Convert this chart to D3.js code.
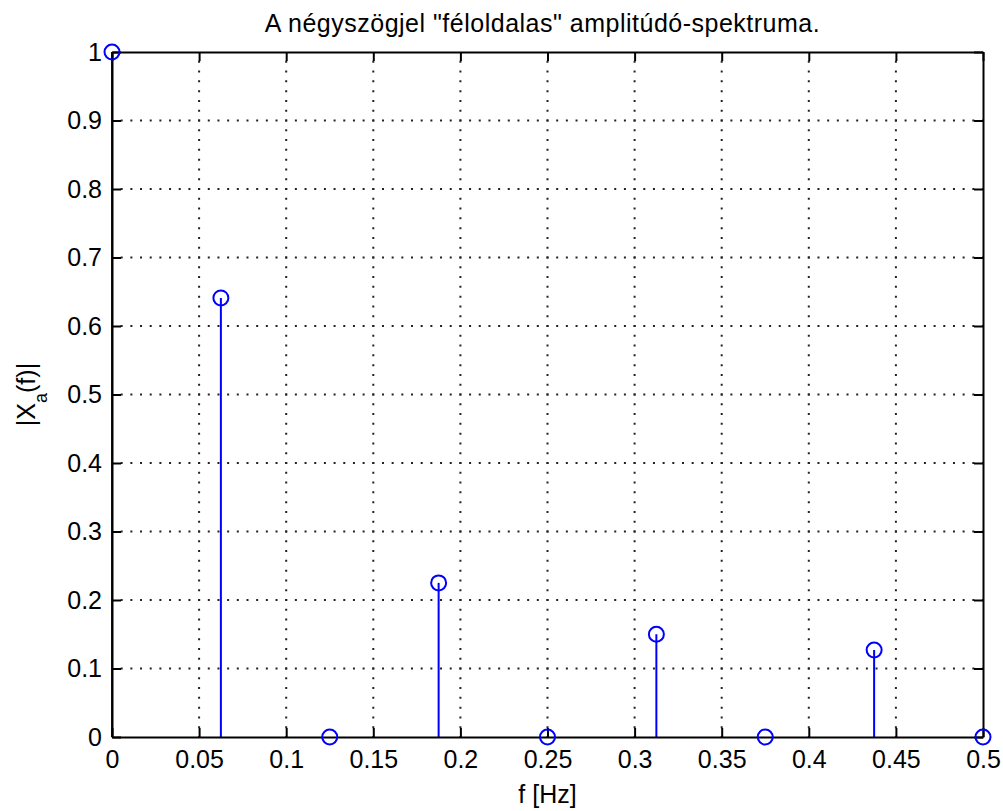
<!DOCTYPE html>
<html>
<head>
<meta charset="utf-8">
<script src="https://cdn.jsdelivr.net/npm/d3@7"></script>
<style>
  body { margin: 0; background: #fff; }
  svg text { font-family: "Liberation Sans", Arial, sans-serif; fill: #000; }
</style>
</head>
<body>
<div id="chart"></div>
<script>
// stem plot data: frequency bins and half-sided amplitude
var freqs = [0, 0.0625, 0.125, 0.1875, 0.25, 0.3125, 0.375, 0.4375, 0.5];
var amps  = [1, 0.641, 0, 0.225, 0, 0.150, 0, 0.127, 0];
var xTicks = [0, 0.05, 0.1, 0.15, 0.2, 0.25, 0.3, 0.35, 0.4, 0.45, 0.5];
var yTicks = [0, 0.1, 0.2, 0.3, 0.4, 0.5, 0.6, 0.7, 0.8, 0.9, 1];

var width = 1003, height = 811;
var mLeft = 112, mRight = 983, mTop = 52, mBottom = 737;
var tickLen = 9;

var svg = d3.select("#chart").append("svg")
    .attr("width", width)
    .attr("height", height);

var x = d3.scaleLinear().domain([0, 0.5]).range([mLeft, mRight]);
var y = d3.scaleLinear().domain([0, 1]).range([mBottom, mTop]);

var data = freqs.map(function(f, i) { return {f: f, a: amps[i]}; });

// dotted grid, dots fall on the crossings
var px = (x(0.05) - x(0)) / 9;
var py = (y(0) - y(0.1)) / 7;

svg.append("g").selectAll("line")
    .data(xTicks.slice(1, -1))
    .enter().append("line")
    .attr("x1", function(d) { return x(d); })
    .attr("x2", function(d) { return x(d); })
    .attr("y1", mBottom).attr("y2", mTop)
    .attr("stroke", "#222").attr("stroke-width", 2)
    .attr("stroke-dasharray", "2," + (py - 2))
    .attr("stroke-dashoffset", 1);

svg.append("g").selectAll("line")
    .data(yTicks.slice(1, -1))
    .enter().append("line")
    .attr("y1", function(d) { return y(d); })
    .attr("y2", function(d) { return y(d); })
    .attr("x1", mLeft).attr("x2", mRight)
    .attr("stroke", "#222").attr("stroke-width", 2)
    .attr("stroke-dasharray", "2," + (px - 2))
    .attr("stroke-dashoffset", 1);

// stems
svg.append("g").selectAll("line")
    .data(data)
    .enter().append("line")
    .attr("x1", function(d) { return x(d.f); })
    .attr("x2", function(d) { return x(d.f); })
    .attr("y1", y(0))
    .attr("y2", function(d) { return y(d.a); })
    .attr("stroke", "#0000ff")
    .attr("stroke-width", 2);

// axes, box with inward ticks on all sides
var xAxisB = d3.axisBottom(x).tickValues(xTicks).tickSizeInner(-tickLen).tickSizeOuter(0)
    .tickFormat(d3.format("~g")).tickPadding(13);
var xAxisT = d3.axisTop(x).tickValues(xTicks).tickSizeInner(-tickLen).tickSizeOuter(0).tickFormat("");
var yAxisL = d3.axisLeft(y).tickValues(yTicks).tickSizeInner(-tickLen).tickSizeOuter(0)
    .tickFormat(d3.format("~g")).tickPadding(10);
var yAxisR = d3.axisRight(y).tickValues(yTicks).tickSizeInner(-tickLen).tickSizeOuter(0).tickFormat("");

function styleAxis(g) {
  g.select(".domain").attr("stroke", "#000").attr("stroke-width", 2);
  g.selectAll(".tick line").attr("stroke", "#000").attr("stroke-width", 2);
  g.selectAll(".tick text")
    .style("font-size", "25px")
    .style("font-family", "'Liberation Sans', Arial, sans-serif")
    .attr("fill", "#000");
}

svg.append("g").attr("transform", "translate(0," + mBottom + ")").call(xAxisB).call(styleAxis);
svg.append("g").attr("transform", "translate(0," + mTop + ")").call(xAxisT).call(styleAxis);
svg.append("g").attr("transform", "translate(" + mLeft + ",0)").call(yAxisL).call(styleAxis);
svg.append("g").attr("transform", "translate(" + mRight + ",0)").call(yAxisR).call(styleAxis);

// markers
svg.append("g").selectAll("circle")
    .data(data)
    .enter().append("circle")
    .attr("cx", function(d) { return x(d.f); })
    .attr("cy", function(d) { return y(d.a); })
    .attr("r", 7.5)
    .attr("fill", "none")
    .attr("stroke", "#0000ff")
    .attr("stroke-width", 2);

// title and labels
svg.append("text")
    .attr("x", (mLeft + mRight) / 2 - 5)
    .attr("y", 32)
    .attr("text-anchor", "middle")
    .style("font-size", "25px")
    .style("letter-spacing", "0.5px")
    .text("A négyszögjel \"féloldalas\" amplitúdó-spektruma.");

svg.append("text")
    .attr("x", (mLeft + mRight) / 2)
    .attr("y", 803)
    .attr("text-anchor", "middle")
    .style("font-size", "25px")
    .text("f [Hz]");

var ylab = svg.append("text")
    .attr("transform", "translate(35," + ((mTop + mBottom) / 2) + ") rotate(-90)")
    .attr("text-anchor", "middle")
    .style("font-size", "25px");
ylab.append("tspan").text("|X");
ylab.append("tspan").attr("dy", 12).style("font-size", "18px").text("a");
ylab.append("tspan").attr("dy", -12).text("(f)|");
</script>
</body>
</html>
